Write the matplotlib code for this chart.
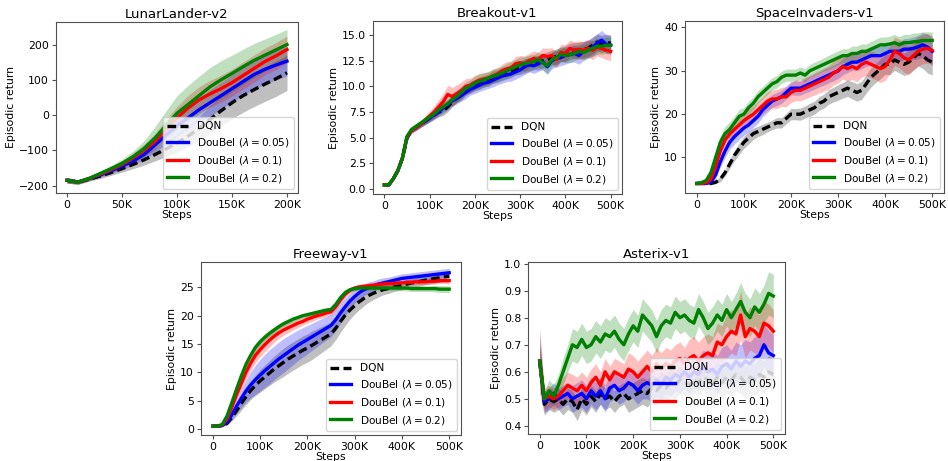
import numpy as np
import matplotlib
matplotlib.use("Agg")
import matplotlib.pyplot as plt
from matplotlib.ticker import FuncFormatter

# ---------------- data ----------------
series_labels = ["DQN", r"DouBel ($\lambda = 0.05$)", r"DouBel ($\lambda = 0.1$)", r"DouBel ($\lambda = 0.2$)"]
series_colors = ["black", "blue", "red", "green"]
titles = ["LunarLander-v2", "Breakout-v1", "SpaceInvaders-v1", "Freeway-v1", "Asterix-v1"]

steps_ll = np.arange(0, 201, 10) * 1000
steps_atari = np.arange(0, 501, 10) * 1000

# LunarLander-v2
ll_dqn = [-185, -190, -182, -173, -163, -152, -140, -127, -112, -96, -79, -60, -38, -12, 12, 35, 55, 72, 88, 103, 120]
ll_b05 = [-185, -190, -180, -170, -158, -145, -130, -112, -85, -57, -30, -8, 15, 35, 55, 75, 95, 115, 130, 142, 153]
ll_b10 = [-185, -190, -180, -168, -155, -140, -122, -100, -75, -40, -8, 20, 43, 60, 75, 92, 112, 132, 152, 168, 186]
ll_b20 = [-185, -190, -180, -166, -152, -137, -118, -95, -65, -30, 5, 30, 55, 80, 100, 118, 137, 155, 170, 185, 200]
ll_dqn_sd = [8, 6, 6, 7, 8, 10, 12, 15, 18, 22, 26, 30, 34, 38, 42, 45, 47, 48, 49, 50, 50]
ll_b05_sd = [8, 6, 6, 7, 8, 10, 12, 15, 20, 25, 30, 33, 35, 37, 38, 39, 40, 41, 42, 42, 42]
ll_b10_sd = [8, 6, 6, 7, 8, 10, 13, 17, 22, 28, 32, 35, 37, 38, 38, 38, 38, 38, 38, 38, 38]
ll_b20_sd = [8, 6, 6, 7, 9, 12, 16, 22, 32, 42, 50, 54, 55, 55, 54, 52, 50, 48, 46, 44, 43]

# Breakout-v1
bo_dqn = [0.4, 0.4, 1.0, 1.8, 3.0, 5.0, 5.7, 6.0, 6.3, 6.6,
          6.9, 7.2, 7.5, 7.6, 8.0, 8.5, 8.9, 9.2, 9.6, 9.9,
          10.1, 10.3, 10.5, 10.6, 10.9, 11.0, 11.2, 11.3, 11.5, 11.7,
          11.8, 12.0, 12.1, 12.3, 12.3, 12.5, 12.6, 12.8, 12.9, 13.1,
          13.2, 13.4, 13.5, 13.5, 13.6, 13.7, 14.0, 14.3, 14.1, 14.3, 14.2]
bo_b05 = [0.4, 0.4, 1.0, 1.8, 3.0, 5.0, 5.7, 6.0, 6.3, 6.6,
          6.9, 7.2, 7.5, 7.9, 8.2, 8.6, 8.8, 9.1, 9.4, 9.7,
          9.9, 10.1, 10.3, 10.4, 10.6, 10.8, 11.0, 11.1, 11.2, 11.4,
          11.6, 11.9, 12.1, 12.0, 12.2, 12.4, 11.9, 12.5, 12.7, 12.8,
          13.0, 13.1, 13.2, 13.0, 13.4, 13.6, 13.8, 14.2, 14.5, 14.1, 14.0]
bo_b10 = [0.4, 0.4, 1.0, 1.8, 3.0, 5.0, 5.7, 6.0, 6.3, 6.7,
          7.1, 7.5, 8.0, 8.5, 9.2, 9.0, 9.3, 9.6, 10.0, 10.1,
          10.4, 10.6, 10.7, 10.8, 11.0, 11.2, 11.5, 11.7, 11.8, 12.2,
          12.3, 12.2, 12.5, 12.7, 12.6, 13.0, 12.9, 13.0, 12.6, 13.3,
          13.2, 13.7, 13.5, 13.6, 13.5, 13.7, 13.5, 13.8, 13.7, 13.5, 13.4]
bo_b20 = [0.4, 0.4, 1.0, 1.8, 3.0, 5.1, 5.8, 6.1, 6.4, 6.7,
          7.0, 7.3, 7.7, 8.0, 8.3, 8.7, 9.0, 9.4, 9.8, 10.0,
          10.3, 10.5, 10.6, 10.8, 11.0, 11.1, 11.3, 11.5, 11.7, 11.9,
          12.1, 12.2, 12.3, 12.4, 12.6, 12.3, 12.0, 12.6, 12.8, 13.1,
          13.0, 13.1, 13.2, 13.4, 13.3, 13.5, 13.7, 13.9, 13.9, 14.0, 14.0]
bo_dqn_sd = [0.05, 0.05, 0.1, 0.15, 0.2, 0.25, 0.25, 0.3, 0.3, 0.35,
             0.4, 0.4, 0.45, 0.45, 0.5, 0.5, 0.5, 0.55, 0.5, 0.55,
             0.55, 0.6, 0.55, 0.6, 0.6, 0.6, 0.65, 0.6, 0.65, 0.6,
             0.65, 0.7, 0.65, 0.7, 0.7, 0.7, 0.75, 0.7, 0.75, 0.7,
             0.75, 0.8, 0.75, 0.8, 0.8, 0.8, 0.85, 0.8, 0.85, 0.8, 0.8]
bo_b05_sd = [0.05, 0.05, 0.1, 0.15, 0.2, 0.25, 0.25, 0.3, 0.3, 0.35,
             0.4, 0.45, 0.45, 0.5, 0.5, 0.55, 0.5, 0.55, 0.6, 0.55,
             0.6, 0.6, 0.65, 0.6, 0.65, 0.65, 0.7, 0.65, 0.7, 0.7,
             0.7, 0.75, 0.7, 0.75, 0.75, 0.8, 0.75, 0.8, 0.8, 0.8,
             0.85, 0.8, 0.85, 0.85, 0.9, 0.85, 0.9, 0.9, 0.95, 0.9, 0.9]
bo_b10_sd = [0.05, 0.05, 0.1, 0.15, 0.2, 0.25, 0.3, 0.3, 0.35, 0.4,
             0.5, 0.6, 0.7, 0.8, 0.9, 0.9, 0.85, 0.8, 0.75, 0.7,
             0.7, 0.65, 0.65, 0.6, 0.65, 0.6, 0.65, 0.7, 0.65, 0.7,
             0.7, 0.75, 0.7, 0.75, 0.7, 0.75, 0.8, 0.75, 0.8, 0.8,
             0.85, 0.8, 0.85, 0.8, 0.85, 0.85, 0.9, 0.85, 0.9, 0.9, 0.9]
bo_b20_sd = [0.05, 0.05, 0.1, 0.15, 0.2, 0.25, 0.25, 0.3, 0.3, 0.35,
             0.4, 0.4, 0.45, 0.5, 0.5, 0.55, 0.55, 0.6, 0.6, 0.65,
             0.65, 0.7, 0.7, 0.65, 0.7, 0.7, 0.65, 0.7, 0.7, 0.75,
             0.75, 0.7, 0.75, 0.7, 0.75, 0.7, 0.75, 0.7, 0.75, 0.75,
             0.7, 0.75, 0.7, 0.75, 0.7, 0.75, 0.75, 0.8, 0.75, 0.8, 0.8]

# SpaceInvaders-v1
si_dqn = [4, 4, 4, 4, 4.3, 5, 6.5, 8.5, 10.5, 12,
          13.5, 14.5, 15.5, 16, 16.5, 17, 17.5, 18, 18, 19,
          20, 20, 20, 20.5, 21, 21.5, 22.5, 23, 24, 24.5,
          25, 25.5, 26, 25.5, 25, 25.5, 27, 28.5, 29.5, 30.5,
          31.5, 31.5, 32.5, 32, 31.5, 32, 33, 34, 33.5, 32.5, 32]
si_b05 = [4, 4, 4, 4.3, 6, 9, 11.5, 13.5, 14.8, 15.8,
          16.8, 17.5, 18.5, 19.5, 21, 22, 23, 23.5, 24, 25,
          26, 26, 26, 26.5, 27, 27.5, 28, 28.5, 29, 29.5,
          30, 31, 31.5, 32, 32, 32.5, 33, 33.5, 33.5, 33.5,
          34, 34.5, 34.5, 34.5, 35, 35, 35.2, 35.5, 36, 35.5, 34.5]
si_b10 = [4, 4, 4.2, 5, 8, 11.5, 14, 15.5, 16.5, 17.5,
          18.5, 19.3, 20, 21, 22, 23, 23.5, 23.5, 24, 24,
          25, 25.5, 25.5, 26, 26.5, 27, 27.5, 28, 28.5, 29.5,
          30, 31, 30.5, 31, 30.5, 31.5, 32, 31.5, 31, 30.5,
          31, 32.5, 34.5, 34, 33, 32.5, 33.5, 34.5, 35, 35.2, 34.7]
si_b20 = [4, 4.2, 4.7, 6.5, 10, 13.5, 15.5, 16.5, 18, 19.5,
          20, 21.5, 22.5, 24, 25, 26, 27, 27.5, 28.5, 29,
          29, 29, 29.5, 29, 30, 30.5, 31, 31.5, 32, 32.5,
          33, 33.5, 33.5, 34, 34, 34.5, 34.5, 35, 35.5, 36,
          36, 36.2, 36.5, 36, 36.5, 36.5, 36.7, 36.8, 37, 37, 37]
si_dqn_sd = [0.2, 0.2, 0.2, 0.3, 0.4, 0.6, 0.8, 1.0, 1.2, 1.3,
             1.4, 1.4, 1.3, 1.2, 1.2, 1.1, 1.1, 1.2, 1.2, 1.2,
             1.3, 1.3, 1.4, 1.4, 1.5, 1.5, 1.6, 1.6, 1.7, 1.7,
             1.8, 1.8, 1.9, 2.0, 2.0, 2.1, 2.1, 2.2, 2.2, 2.3,
             2.3, 2.4, 2.4, 2.5, 2.6, 2.7, 2.8, 2.9, 3.0, 3.0, 3.0]
si_b05_sd = [0.2, 0.2, 0.2, 0.3, 0.8, 1.2, 1.5, 1.6, 1.7, 1.7,
             1.7, 1.7, 1.6, 1.6, 1.6, 1.6, 1.5, 1.5, 1.5, 1.5,
             1.5, 1.6, 1.6, 1.6, 1.7, 1.7, 1.7, 1.8, 1.8, 1.8,
             1.8, 1.9, 1.9, 1.9, 2.0, 2.0, 2.0, 2.1, 2.1, 2.1,
             2.2, 2.2, 2.3, 2.3, 2.4, 2.5, 2.6, 2.7, 2.8, 3.0, 3.2]
si_b10_sd = [0.2, 0.2, 0.3, 0.6, 1.2, 1.5, 1.7, 1.7, 1.7, 1.8,
             1.8, 1.9, 1.9, 2.0, 2.0, 2.1, 2.1, 2.2, 2.2, 2.3,
             2.3, 2.4, 2.4, 2.5, 2.5, 2.6, 2.6, 2.7, 2.7, 2.8,
             2.8, 2.9, 2.9, 3.0, 3.0, 3.0, 3.1, 3.1, 3.1, 3.2,
             3.2, 3.2, 3.3, 3.3, 3.3, 3.3, 3.4, 3.4, 3.4, 3.4, 3.4]
si_b20_sd = [0.2, 0.3, 0.5, 0.9, 1.3, 1.6, 1.7, 1.7, 1.6, 1.6,
             1.5, 1.5, 1.5, 1.5, 1.4, 1.4, 1.4, 1.4, 1.4, 1.4,
             1.4, 1.4, 1.4, 1.5, 1.5, 1.5, 1.5, 1.5, 1.6, 1.6,
             1.6, 1.6, 1.6, 1.7, 1.7, 1.7, 1.7, 1.8, 1.8, 1.8,
             1.8, 1.8, 1.9, 1.9, 1.9, 1.9, 2.0, 2.0, 2.0, 2.0, 2.0]

# Freeway-v1
fw_dqn = [0.5, 0.5, 0.6, 1.0, 2.0, 3.2, 4.5, 5.7, 6.8, 7.7,
          8.5, 9.2, 9.9, 10.6, 11.2, 11.8, 12.4, 12.9, 13.4, 13.9,
          14.3, 14.8, 15.3, 15.8, 16.3, 16.8, 17.8, 19.0, 20.1, 21.0,
          21.8, 22.5, 23.1, 23.6, 24.0, 24.3, 24.6, 24.8, 25.0, 25.2,
          25.4, 25.6, 25.8, 25.9, 26.1, 26.3, 26.4, 26.6, 26.7, 26.9, 27.0]
fw_b05 = [0.5, 0.5, 0.6, 1.2, 2.5, 4.0, 5.4, 6.7, 7.8, 8.7,
          9.5, 10.3, 11.0, 11.7, 12.4, 13.0, 13.6, 14.2, 14.8, 15.3,
          15.8, 16.3, 16.8, 17.3, 17.8, 18.3, 19.3, 20.5, 21.6, 22.6,
          23.4, 24.1, 24.6, 25.0, 25.3, 25.6, 25.8, 26.0, 26.2, 26.4,
          26.6, 26.7, 26.8, 26.9, 27.0, 27.1, 27.2, 27.3, 27.4, 27.5, 27.6]
fw_b10 = [0.5, 0.5, 0.7, 1.8, 3.8, 6.0, 8.0, 10.0, 11.6, 13.0,
          14.0, 14.9, 15.7, 16.4, 17.0, 17.5, 17.9, 18.3, 18.7, 19.0,
          19.4, 19.7, 20.0, 20.2, 20.5, 20.7, 21.6, 22.8, 23.8, 24.5,
          24.9, 25.1, 25.2, 25.3, 25.4, 25.5, 25.6, 25.7, 25.7, 25.8,
          25.8, 25.9, 25.9, 26.0, 26.0, 26.0, 26.1, 26.1, 26.2, 26.2, 26.2]
fw_b20 = [0.5, 0.5, 0.8, 2.3, 4.6, 7.0, 9.3, 11.4, 13.0, 14.4,
          15.4, 16.2, 16.9, 17.5, 18.1, 18.6, 19.0, 19.4, 19.7, 20.0,
          20.2, 20.4, 20.6, 20.8, 21.0, 21.1, 22.0, 23.2, 24.1, 24.6,
          24.8, 24.9, 24.9, 24.9, 24.9, 24.9, 24.9, 24.9, 24.9, 24.9,
          24.9, 24.9, 24.8, 24.8, 24.8, 24.8, 24.8, 24.8, 24.7, 24.7, 24.7]
fw_dqn_sd = [0.05, 0.05, 0.1, 0.3, 0.6, 0.9, 1.2, 1.4, 1.6, 1.8,
             2.0, 2.1, 2.2, 2.3, 2.4, 2.5, 2.5, 2.5, 2.5, 2.5,
             2.5, 2.5, 2.4, 2.3, 2.2, 2.1, 2.0, 1.9, 1.8, 1.6,
             1.5, 1.4, 1.3, 1.2, 1.1, 1.0, 0.9, 0.9, 0.8, 0.8,
             0.8, 0.8, 0.8, 0.8, 0.8, 0.8, 0.8, 0.8, 0.8, 0.8, 0.8]
fw_b05_sd = [0.05, 0.05, 0.1, 0.4, 0.8, 1.2, 1.6, 2.0, 2.3, 2.6,
             2.8, 2.9, 3.0, 3.0, 3.0, 3.0, 2.9, 2.8, 2.7, 2.6,
             2.5, 2.4, 2.3, 2.2, 2.1, 2.0, 1.9, 1.8, 1.6, 1.4,
             1.2, 1.1, 1.0, 1.0, 0.9, 0.9, 0.9, 0.8, 0.8, 0.8,
             0.8, 0.8, 0.8, 0.8, 0.8, 0.8, 0.8, 0.8, 0.8, 0.8, 0.8]
fw_b10_sd = [0.05, 0.05, 0.1, 0.3, 0.6, 0.9, 1.1, 1.2, 1.3, 1.3,
             1.3, 1.2, 1.2, 1.1, 1.0, 0.9, 0.9, 0.8, 0.8, 0.7,
             0.7, 0.7, 0.6, 0.6, 0.6, 0.6, 0.6, 0.6, 0.5, 0.5,
             0.5, 0.5, 0.5, 0.5, 0.5, 0.5, 0.5, 0.5, 0.5, 0.5,
             0.5, 0.5, 0.5, 0.5, 0.5, 0.5, 0.5, 0.5, 0.5, 0.5, 0.5]
fw_b20_sd = [0.05, 0.05, 0.1, 0.3, 0.5, 0.7, 0.8, 0.8, 0.8, 0.7,
             0.7, 0.6, 0.6, 0.6, 0.5, 0.5, 0.5, 0.5, 0.4, 0.4,
             0.4, 0.4, 0.4, 0.4, 0.4, 0.4, 0.4, 0.4, 0.4, 0.4,
             0.4, 0.4, 0.4, 0.4, 0.4, 0.4, 0.4, 0.4, 0.4, 0.4,
             0.5, 0.5, 0.5, 0.5, 0.5, 0.5, 0.5, 0.6, 0.6, 0.6, 0.6]

# Asterix-v1
ax_dqn = [0.64, 0.48, 0.50, 0.49, 0.50, 0.48, 0.50, 0.49, 0.46, 0.50,
          0.48, 0.51, 0.49, 0.52, 0.50, 0.51, 0.49, 0.51, 0.52, 0.50,
          0.51, 0.52, 0.53, 0.52, 0.54, 0.53, 0.55, 0.54, 0.56, 0.55,
          0.57, 0.56, 0.55, 0.57, 0.56, 0.58, 0.57, 0.55, 0.58, 0.56,
          0.58, 0.57, 0.59, 0.58, 0.56, 0.58, 0.57, 0.59, 0.58, 0.60, 0.59]
ax_b05 = [0.64, 0.49, 0.50, 0.52, 0.50, 0.51, 0.52, 0.50, 0.51, 0.52,
          0.50, 0.53, 0.51, 0.53, 0.50, 0.54, 0.55, 0.53, 0.54, 0.56,
          0.55, 0.53, 0.55, 0.56, 0.55, 0.57, 0.55, 0.58, 0.57, 0.59,
          0.58, 0.60, 0.58, 0.60, 0.59, 0.62, 0.60, 0.61, 0.59, 0.62,
          0.63, 0.61, 0.64, 0.62, 0.64, 0.63, 0.65, 0.66, 0.70, 0.67, 0.66]
ax_b10 = [0.64, 0.50, 0.51, 0.50, 0.51, 0.53, 0.55, 0.54, 0.53, 0.55,
          0.53, 0.56, 0.58, 0.55, 0.60, 0.57, 0.60, 0.59, 0.58, 0.61,
          0.60, 0.58, 0.60, 0.62, 0.60, 0.63, 0.61, 0.63, 0.62, 0.64,
          0.65, 0.63, 0.65, 0.66, 0.64, 0.66, 0.67, 0.66, 0.71, 0.70,
          0.73, 0.75, 0.74, 0.81, 0.73, 0.76, 0.75, 0.73, 0.78, 0.77, 0.75]
ax_b20 = [0.64, 0.50, 0.53, 0.51, 0.55, 0.60, 0.65, 0.70, 0.69, 0.72,
          0.69, 0.70, 0.73, 0.71, 0.74, 0.73, 0.75, 0.72, 0.70, 0.74,
          0.77, 0.75, 0.81, 0.79, 0.77, 0.73, 0.77, 0.79, 0.78, 0.82,
          0.80, 0.81, 0.79, 0.78, 0.83, 0.80, 0.76, 0.78, 0.81, 0.79,
          0.83, 0.80, 0.83, 0.86, 0.82, 0.80, 0.84, 0.82, 0.85, 0.89, 0.88]
ax_dqn_sd = [0.12, 0.04, 0.04, 0.04, 0.04, 0.04, 0.04, 0.04, 0.04, 0.04,
             0.04, 0.04, 0.04, 0.04, 0.04, 0.04, 0.04, 0.04, 0.04, 0.05,
             0.05, 0.05, 0.05, 0.05, 0.05, 0.05, 0.05, 0.05, 0.05, 0.05,
             0.05, 0.05, 0.05, 0.05, 0.05, 0.05, 0.05, 0.06, 0.06, 0.06,
             0.06, 0.06, 0.06, 0.06, 0.06, 0.06, 0.06, 0.06, 0.06, 0.06, 0.06]
ax_b05_sd = [0.06, 0.04, 0.04, 0.04, 0.04, 0.04, 0.04, 0.05, 0.05, 0.05,
             0.05, 0.05, 0.05, 0.05, 0.05, 0.05, 0.05, 0.05, 0.05, 0.05,
             0.05, 0.05, 0.05, 0.06, 0.06, 0.06, 0.06, 0.06, 0.06, 0.06,
             0.06, 0.06, 0.06, 0.06, 0.06, 0.06, 0.07, 0.07, 0.07, 0.07,
             0.07, 0.07, 0.07, 0.08, 0.08, 0.08, 0.08, 0.08, 0.08, 0.08, 0.08]
ax_b10_sd = [0.10, 0.04, 0.04, 0.04, 0.04, 0.05, 0.05, 0.05, 0.05, 0.05,
             0.05, 0.05, 0.05, 0.05, 0.05, 0.05, 0.05, 0.05, 0.05, 0.06,
             0.06, 0.06, 0.06, 0.06, 0.06, 0.06, 0.06, 0.06, 0.06, 0.06,
             0.06, 0.06, 0.07, 0.07, 0.07, 0.07, 0.07, 0.07, 0.07, 0.07,
             0.08, 0.08, 0.08, 0.09, 0.08, 0.08, 0.08, 0.08, 0.08, 0.08, 0.08]
ax_b20_sd = [0.06, 0.03, 0.04, 0.04, 0.04, 0.05, 0.05, 0.06, 0.06, 0.06,
             0.06, 0.06, 0.06, 0.06, 0.06, 0.06, 0.06, 0.06, 0.06, 0.06,
             0.06, 0.06, 0.06, 0.06, 0.06, 0.06, 0.06, 0.06, 0.06, 0.06,
             0.06, 0.06, 0.06, 0.06, 0.06, 0.06, 0.06, 0.06, 0.06, 0.06,
             0.06, 0.06, 0.06, 0.07, 0.07, 0.07, 0.07, 0.07, 0.07, 0.08, 0.08]

panels = [
    (steps_ll, [ll_dqn, ll_b05, ll_b10, ll_b20], [ll_dqn_sd, ll_b05_sd, ll_b10_sd, ll_b20_sd]),
    (steps_atari, [bo_dqn, bo_b05, bo_b10, bo_b20], [bo_dqn_sd, bo_b05_sd, bo_b10_sd, bo_b20_sd]),
    (steps_atari, [si_dqn, si_b05, si_b10, si_b20], [si_dqn_sd, si_b05_sd, si_b10_sd, si_b20_sd]),
    (steps_atari, [fw_dqn, fw_b05, fw_b10, fw_b20], [fw_dqn_sd, fw_b05_sd, fw_b10_sd, fw_b20_sd]),
    (steps_atari, [ax_dqn, ax_b05, ax_b10, ax_b20], [ax_dqn_sd, ax_b05_sd, ax_b10_sd, ax_b20_sd]),
]

# ---------------- layout ----------------
W, H = 948, 461
boxes_px = [  # left, right, top, bottom in pixels
    (56, 298, 22, 193),
    (373, 622, 21, 194),
    (685, 944, 21, 193),
    (201, 461, 262, 435),
    (528, 785, 262, 434),
]
ylims = [(-221, 264), (-0.49, 16.36), (1.8, 41.5), (-1.06, 29.5), (0.37, 1.006)]
xlims = [(-10000, 210000), (-25000, 525000), (-25000, 525000), (-25000, 525000), (-25000, 525000)]
xticks = [np.arange(0, 200001, 50000), np.arange(0, 500001, 100000)]

fig = plt.figure(figsize=(W / 100, H / 100), dpi=100)


def kfmt(v, pos):
    return "0" if v == 0 else f"{int(round(v / 1000))}K"


spine_col = "#505050"
for i, (x, means, sds) in enumerate(panels):
    l, r, t, b = boxes_px[i]
    ax = fig.add_axes([l / W, 1 - b / H, (r - l) / W, (b - t) / H])
    for j in range(4):
        m = np.asarray(means[j], dtype=float)
        s = np.asarray(sds[j], dtype=float)
        ax.fill_between(x, m - s, m + s, color=series_colors[j], alpha=0.25, linewidth=0)
        if j == 0:
            ax.plot(x, m, color=series_colors[j], lw=2.4, ls=(0, (2.6, 1.3)),
                    label=series_labels[j])
        else:
            ax.plot(x, m, color=series_colors[j], lw=2.4, ls="-", label=series_labels[j])
    ax.set_xlim(*xlims[i])
    ax.set_ylim(*ylims[i])
    ax.set_xticks(xticks[0] if i == 0 else xticks[1])
    ax.xaxis.set_major_formatter(FuncFormatter(kfmt))
    ax.set_title(titles[i], fontsize=9.5, pad=3)
    ax.set_xlabel("Steps", fontsize=7.8, labelpad=0)
    ax.set_ylabel("Episodic return", fontsize=7.8, labelpad=2)
    ax.tick_params(labelsize=7.8, length=3, width=0.8, color=spine_col, pad=2)
    for sp in ax.spines.values():
        sp.set_color(spine_col)
        sp.set_linewidth(0.8)
    ax.legend(loc="lower right", fontsize=7.6, framealpha=0.8, borderaxespad=0.4,
              handlelength=2.0, labelspacing=0.45)

fig.savefig("out.png", dpi=100)
